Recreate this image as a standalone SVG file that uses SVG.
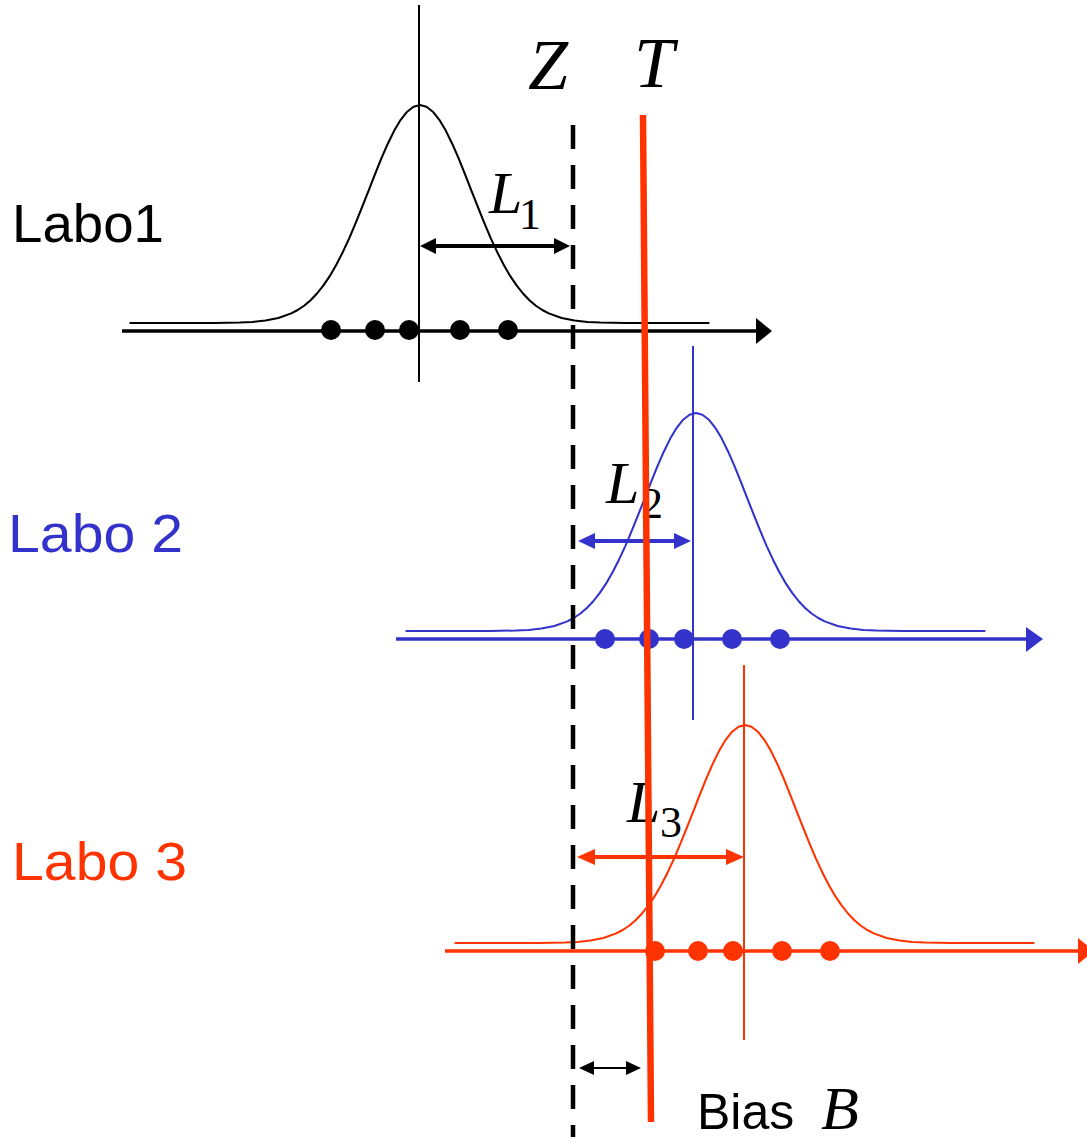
<svg xmlns="http://www.w3.org/2000/svg" xmlns:xlink="http://www.w3.org/1999/xlink" width="1087" height="1137" viewBox="0 0 1087 1137">
<style>
.lab{font-family:"Liberation Sans",Arial,sans-serif;font-size:53px}
.it{font-family:"Liberation Serif","Times New Roman",serif;font-style:italic}
.sub{font-family:"Liberation Serif","Times New Roman",serif;font-size:44px}
.curve{fill:none;stroke-width:2;stroke-linejoin:round}
</style>
<defs>
<path id="g" d="M -282 0 L -200 -0.07 L -175 -0.5 L -162.5 -1.1 L -150 -2.4 L -137.5 -5 L -125 -9.6 L -118.75 -13 L -112.5 -17.3 L -106.25 -22.8 L -100 -29.5 L -93.75 -37.6 L -87.5 -47.1 L -81.25 -58.2 L -75 -70.8 L -68.75 -84.7 L -62.5 -99.8 L -56.25 -115.8 L -50 -132.2 L -43.75 -148.7 L -37.5 -164.6 L -31.25 -179.3 L -25 -192.4 L -18.75 -203.2 L -12.5 -211.3 L -6.25 -216.3 L 0 -218 L 6.25 -216.3 L 12.5 -211.3 L 18.75 -203.2 L 25 -192.4 L 31.25 -179.3 L 37.5 -164.6 L 43.75 -148.7 L 50 -132.2 L 56.25 -115.8 L 62.5 -99.8 L 68.75 -84.7 L 75 -70.8 L 81.25 -58.2 L 87.5 -47.1 L 93.75 -37.6 L 100 -29.5 L 106.25 -22.8 L 112.5 -17.3 L 118.75 -13 L 125 -9.6 L 137.5 -5 L 150 -2.4 L 162.5 -1.1 L 175 -0.5 L 200 -0.07 L 281 0"/>
</defs>
<rect width="1087" height="1137" fill="#fff"/>

<g id="labo1">
<text class="lab" x="12" y="242" fill="#000" textLength="152" lengthAdjust="spacingAndGlyphs">Labo1</text>
<line x1="419" y1="5" x2="419" y2="382" stroke="#000" stroke-width="2"/>
<use xlink:href="#g" transform="translate(420,323) scale(1.03,1)" class="curve" stroke="#000"/>
<line x1="122" y1="331" x2="758" y2="331" stroke="#000" stroke-width="3.5"/>
<polygon points="756,318 772,331 756,344" fill="#000"/>
<g fill="#000"><circle cx="331" cy="330" r="10"/><circle cx="375" cy="330" r="10"/><circle cx="409" cy="330" r="10"/><circle cx="460" cy="330" r="10"/><circle cx="508" cy="330" r="10"/></g>
<line x1="432" y1="246" x2="558" y2="246" stroke="#000" stroke-width="4"/>
<polygon points="420,246 436,238 436,254" fill="#000"/>
<polygon points="570,246 554,238 554,254" fill="#000"/>
<text class="it" x="489" y="213" font-size="60">L</text>
<text class="sub" x="519" y="229">1</text>
</g>

<g id="labo2">
<text class="lab" x="8" y="552" fill="#3333CC" textLength="175" lengthAdjust="spacingAndGlyphs">Labo 2</text>
<line x1="693" y1="346" x2="693" y2="720" stroke="#3333CC" stroke-width="2"/>
<use xlink:href="#g" transform="translate(696,631) scale(1.03,1)" class="curve" stroke="#3333CC"/>
<line x1="396" y1="639" x2="1028" y2="639" stroke="#3333CC" stroke-width="3.5"/>
<polygon points="1026,627 1043,639 1026,652" fill="#3333CC"/>
<g fill="#3333CC"><circle cx="605" cy="639" r="10"/><circle cx="649" cy="639" r="10"/><circle cx="684" cy="639" r="10"/><circle cx="732" cy="639" r="10"/><circle cx="780" cy="639" r="10"/></g>
<line x1="590" y1="541" x2="680" y2="541" stroke="#3333CC" stroke-width="4"/>
<polygon points="578,541 595,533 595,549" fill="#3333CC"/>
<polygon points="691,541 674,533 674,549" fill="#3333CC"/>
<text class="it" x="606" y="503" font-size="60">L</text>
<text class="sub" x="641" y="518">2</text>
</g>

<g id="labo3">
<text class="lab" x="12" y="880" fill="#FF3300" textLength="175" lengthAdjust="spacingAndGlyphs">Labo 3</text>
<line x1="744" y1="665" x2="744" y2="1040" stroke="#FF3300" stroke-width="2"/>
<use xlink:href="#g" transform="translate(745,943) scale(1.03,1)" class="curve" stroke="#FF3300"/>
<line x1="445" y1="951" x2="1080" y2="951" stroke="#FF3300" stroke-width="3.5"/>
<polygon points="1078,938 1094,951 1078,964" fill="#FF3300"/>
<g fill="#FF3300"><circle cx="655" cy="951" r="10"/><circle cx="698" cy="951" r="10"/><circle cx="733" cy="951" r="10"/><circle cx="782" cy="951" r="10"/><circle cx="830" cy="951" r="10"/></g>
<line x1="589" y1="857" x2="732" y2="857" stroke="#FF3300" stroke-width="4"/>
<polygon points="577,857 595,849 595,865" fill="#FF3300"/>
<polygon points="744,857 726,849 726,865" fill="#FF3300"/>
<text class="it" x="627" y="822" font-size="60">L</text>
<text class="sub" x="660" y="837">3</text>
</g>

<g id="reference">
<line x1="573" y1="125" x2="573" y2="1137" stroke="#000" stroke-width="4.5" stroke-dasharray="24 16"/>
<text class="it" x="528" y="89" font-size="72">Z</text>
<line x1="643" y1="115" x2="651" y2="1122" stroke="#FF3300" stroke-width="6.5"/>
<text class="it" x="634" y="87" font-size="72">T</text>
</g>

<g id="bias">
<line x1="590" y1="1068" x2="630" y2="1068" stroke="#000" stroke-width="2"/>
<polygon points="579,1068 594,1061 594,1075" fill="#000"/>
<polygon points="641,1068 626,1061 626,1075" fill="#000"/>
<text class="lab" x="697" y="1129" fill="#000" style="font-size:50px">Bias</text>
<text class="it" x="821" y="1129" font-size="62">B</text>
</g>
</svg>
